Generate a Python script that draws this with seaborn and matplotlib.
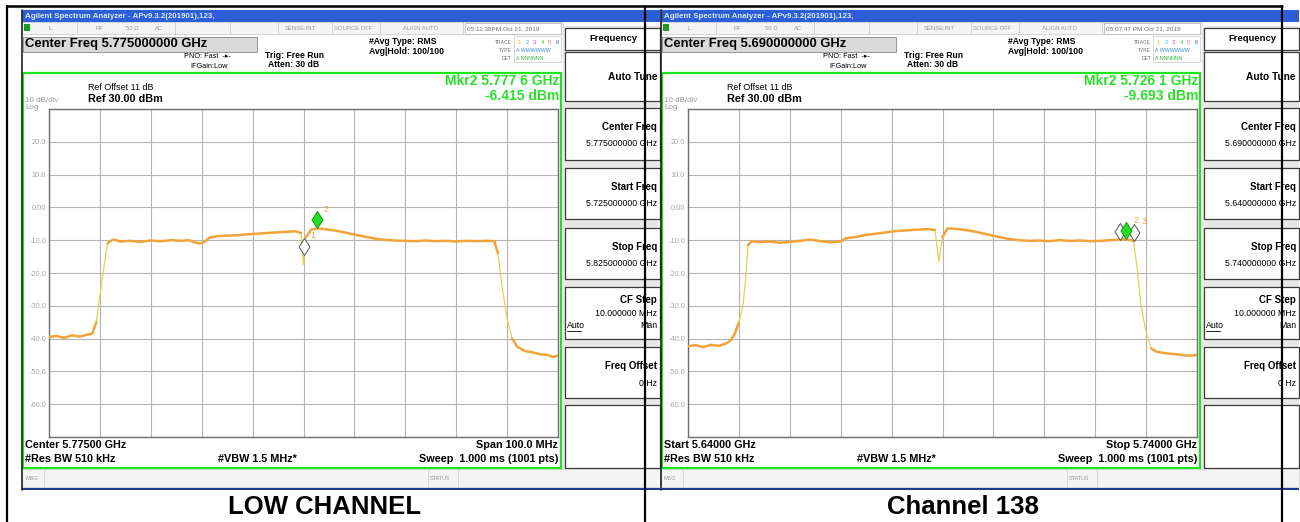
import numpy as np
import pandas as pd
import matplotlib
matplotlib.use("Agg")
import matplotlib.pyplot as plt
import seaborn as sns
from matplotlib.patches import Rectangle
from matplotlib.lines import Line2D
from matplotlib.path import Path

# ---------------- data ----------------
captions = ["LOW CHANNEL", "Channel 138"]
center_freq_text = ["Center Freq 5.775000000 GHz", "Center Freq 5.690000000 GHz"]
timestamps = ["05:11:38PM Oct 21, 2019", "05:07:47 PM Oct 21, 2019"]
marker_freq_text = ["Mkr2 5.777 6 GHz", "Mkr2 5.726 1 GHz"]
marker_level_text = ["-6.415 dBm", "-9.693 dBm"]
bottom_left_text = ["Center 5.77500 GHz", "Start 5.64000 GHz"]
bottom_right_text = ["Span 100.0 MHz", "Stop 5.74000 GHz"]
panel_center = ["5.775000000 GHz", "5.690000000 GHz"]
panel_start = ["5.725000000 GHz", "5.640000000 GHz"]
panel_stop = ["5.825000000 GHz", "5.740000000 GHz"]
span_start_ghz = [5.725, 5.640]
span_stop_ghz = [5.825, 5.740]

ref_level_dbm = 30
db_per_div = 10
y_tick_labels = ["", "20.0", "10.0", "0.00", "-10.0", "-20.0", "-30.0",
                 "-40.0", "-50.0", "-60.0", ""]

low_freq_ghz = [5.7250, 5.7265, 5.7280, 5.7295, 5.7310, 5.7325, 5.7335, 5.7343,
                5.7350, 5.7358, 5.7365, 5.7370, 5.7378, 5.7390, 5.7410, 5.7430,
                5.7450, 5.7470, 5.7490, 5.7510, 5.7525, 5.7535, 5.7545, 5.7555,
                5.7565, 5.7580, 5.7600, 5.7620, 5.7640, 5.7660, 5.7680, 5.7700,
                5.7720, 5.7735, 5.7745, 5.7750, 5.7755, 5.7765, 5.7776, 5.7790,
                5.7810, 5.7830, 5.7850, 5.7870, 5.7890, 5.7910, 5.7930, 5.7950,
                5.7970, 5.7990, 5.8010, 5.8030, 5.8050, 5.8070, 5.8090, 5.8110,
                5.8125, 5.8132, 5.8140, 5.8150, 5.8160, 5.8170, 5.8185, 5.8200,
                5.8215, 5.8230, 5.8240, 5.8250]
low_level_dbm = [-39.5, -39.2, -39.8, -39.0, -39.4, -38.8, -38.5, -35.0,
                 -27.0, -18.0, -11.0, -10.3, -9.8, -10.4, -10.2, -10.5,
                 -10.1, -10.3, -10.0, -10.2, -10.0, -10.6, -11.0, -10.6,
                 -9.2, -8.8, -8.6, -8.5, -8.2, -8.0, -7.8, -7.6,
                 -7.4, -7.3, -7.8, -17.5, -9.0, -6.8, -6.4, -6.6,
                 -7.0, -7.6, -8.3, -8.9, -9.5, -9.9, -10.1, -10.2,
                 -10.3, -10.1, -10.3, -10.2, -10.4, -10.2, -10.3, -10.2,
                 -10.3, -14.0, -24.0, -34.0, -40.0, -42.5, -43.8, -44.2,
                 -44.8, -45.0, -45.6, -45.2]

ch138_freq_ghz = [5.6400, 5.6415, 5.6430, 5.6445, 5.6460, 5.6475, 5.6484, 5.6492,
                  5.6500, 5.6508, 5.6513, 5.6518, 5.6525, 5.6540, 5.6560, 5.6580,
                  5.6600, 5.6620, 5.6640, 5.6660, 5.6680, 5.6700, 5.6710, 5.6730,
                  5.6750, 5.6770, 5.6790, 5.6810, 5.6830, 5.6850, 5.6870, 5.6885,
                  5.6893, 5.6900, 5.6910, 5.6930, 5.6950, 5.6970, 5.6990, 5.7010,
                  5.7030, 5.7050, 5.7070, 5.7090, 5.7110, 5.7130, 5.7150, 5.7170,
                  5.7190, 5.7210, 5.7230, 5.7250, 5.7261, 5.7275, 5.7282, 5.7290,
                  5.7300, 5.7310, 5.7320, 5.7340, 5.7360, 5.7380, 5.7400]
ch138_level_dbm = [-42.3, -42.0, -42.6, -41.9, -42.2, -41.5, -40.5, -38.5,
                   -35.0, -30.0, -22.0, -11.5, -10.3, -10.6, -10.4, -10.8,
                   -10.5, -10.2, -9.8, -10.3, -10.6, -10.4, -9.4, -9.0,
                   -8.4, -8.0, -7.6, -7.2, -7.0, -6.8, -6.6, -6.9,
                   -16.5, -9.0, -6.4, -6.6, -7.0, -7.6, -8.3, -9.0,
                   -9.6, -10.0, -10.2, -10.1, -10.3, -10.0, -10.2, -10.1,
                   -10.3, -10.2, -10.0, -9.8, -9.7, -10.2, -18.0, -30.0,
                   -38.0, -43.0, -44.0, -44.5, -44.8, -45.2, -45.0]

low_marker_freq_ghz = [5.7750, 5.7776]
low_marker_level_dbm = [-14.5, -6.4]
low_marker_id = ["1", "2"]
low_marker_active = [False, True]
ch138_marker_freq_ghz = [5.7249, 5.7261, 5.7277]
ch138_marker_level_dbm = [-9.9, -9.7, -10.2]
ch138_marker_id = ["", "2", "3"]
ch138_marker_active = [False, True, False]

# ---------------- figure ----------------
sns.set_theme(style="white")
plt.rcParams["font.family"] = ["Liberation Sans", "DejaVu Sans"]

W, H = 1300, 522
fig = plt.figure(figsize=(13, 5.22), dpi=100)
fig.patch.set_facecolor("white")


def fx(x):
    return x / W


def fy(y):
    return 1 - y / H


def text(x, y, s, size=6, weight="normal", color="black", ha="left", va="center", **kw):
    return fig.text(fx(x), fy(y), s, fontsize=size, fontweight=weight, color=color,
                    ha=ha, va=va, **kw)


def rect(x, y, w, h, fc="none", ec="none", lw=0.8, z=-2):
    fig.add_artist(Rectangle((fx(x), fy(y + h)), w / W, h / H, transform=fig.transFigure,
                             facecolor=fc, edgecolor=ec, linewidth=lw, zorder=z))


def line(x1, y1, x2, y2, color="black", lw=1.0, z=-1):
    fig.add_artist(Line2D([fx(x1), fx(x2)], [fy(y1), fy(y2)], transform=fig.transFigure,
                          color=color, linewidth=lw, zorder=z))


tip_diamond = Path([(0, 0), (0.32, 0.5), (0, 1), (-0.32, 0.5), (0, 0)],
                   [Path.MOVETO, Path.LINETO, Path.LINETO, Path.LINETO, Path.CLOSEPOLY])

ORANGE = "#f2a43a"
YELLOW = "#e4d24a"
GREEN = "#22dd22"


def draw_window(i, x0, freq, level, mk_f, mk_l, mk_id, mk_act):
    X = lambda r: x0 + r
    # title bar
    rect(X(0), 10, 638, 12, fc="#2c5fd6")
    text(X(3), 16.5, "Agilent Spectrum Analyzer - APv9.3.2(201901),123,", 5.7, "bold", "#dfe8ff")
    # status row
    rect(X(0), 22, 541, 12, fc="#f4f4f4", ec="#c8c8c8", lw=0.5)
    rect(X(2), 24, 6, 7, fc="#1f9a1f")
    for r in [55, 153, 208, 256, 310, 358, 441]:
        line(X(r), 22, X(r), 34, "#c4c4c4", 0.5)
    for r, s in [(26, "L"), (73, "RF"), (104, "50 Ω"), (133, "AC"), (263, "SENSE:INT"),
                 (312, "SOURCE OFF"), (381, "ALIGN AUTO")]:
        text(X(r), 28.5, s, 4.2, color="#9a9a9a")
    rect(X(443), 23.5, 96, 10, fc="white", ec="#b0b0b0", lw=0.5)
    text(X(445), 28.5, timestamps[i], 4.6, color="#707070")
    # header
    rect(X(1), 37, 234, 15, fc="#d9d9d9", ec="#8a8a8a", lw=0.6)
    text(X(3), 44.5, center_freq_text[i], 9.4, "bold")
    text(X(162), 57, "PNO: Fast  -▸-", 5.3)
    text(X(168), 66, "IFGain:Low", 5.3)
    text(X(243), 55, "Trig: Free Run", 6.2, "bold")
    text(X(246), 65, "Atten: 30 dB", 6.2, "bold")
    text(X(347), 42, "#Avg Type: RMS", 6.2, "bold")
    text(X(347), 51, "Avg|Hold: 100/100", 6.2, "bold")
    rect(X(492), 36, 47, 26, fc="white", ec="#c8c8c8", lw=0.5)
    text(X(490), 42, "TRACE", 3.6, color="#707070", ha="right")
    text(X(490), 50, "TYPE", 3.6, color="#707070", ha="right")
    text(X(490), 58, "DET", 3.6, color="#707070", ha="right")
    for k, c in enumerate(["#e0c020", "#30c0e0", "#e040d0", "#40c040", "#f06080", "#4060f0"]):
        text(X(496 + 7.5 * k), 42, str(k + 1), 4.2, color=c)
    text(X(494), 50, "A WWWWWW", 3.8, color="#3a8ad0")
    text(X(494), 58, "A NNNNNN", 3.8, color="#40b040")
    # soft-key panel
    rect(X(541), 26, 97, 444, fc="#e8e8e8")
    boxes = [(28, 50), (52, 101), (108, 160), (168, 219), (228, 279), (287, 339),
             (347, 398), (405, 468)]
    for (t, b) in boxes:
        rect(X(543), t, 95, b - t, fc="white", ec="#3a3a3a", lw=0.9)
    text(X(591), 38.5, "Frequency", 6.8, "bold", ha="center")
    R = X(635)
    text(R, 77, "Auto Tune", 7.3, "bold", ha="right")
    text(R, 127, "Center Freq", 7.0, "bold", ha="right")
    text(R, 144, panel_center[i], 6.3, ha="right")
    text(R, 187, "Start Freq", 7.0, "bold", ha="right")
    text(R, 203, panel_start[i], 6.3, ha="right")
    text(R, 247, "Stop Freq", 7.0, "bold", ha="right")
    text(R, 263, panel_stop[i], 6.3, ha="right")
    text(R, 300, "CF Step", 7.0, "bold", ha="right")
    text(R, 313, "10.000000 MHz", 6.3, ha="right")
    text(X(545), 326, "Auto", 6.3)
    line(X(545), 331, X(559), 331, "black", 0.6, z=3)
    text(R, 326, "Man", 6.3, ha="right")
    text(R, 366, "Freq Offset", 7.0, "bold", ha="right")
    text(R, 383, "0 Hz", 6.3, ha="right")
    # green display frame
    rect(X(1), 73, 538, 395, fc="white", ec="#1fe51f", lw=1.6, z=-1.5)
    text(X(537), 81, marker_freq_text[i], 10.0, "bold", color="#2ae02a", ha="right")
    text(X(537), 96, marker_level_text[i], 10.0, "bold", color="#2ae02a", ha="right")
    text(X(66), 87, "Ref Offset 11 dB", 6.4)
    text(X(66), 99.5, "Ref 30.00 dBm", 7.8, "bold")
    text(X(3), 100.5, "10 dB/div", 5.8, color="#9a9a9a")
    text(X(3), 107.5, "Log", 5.8, color="#9a9a9a")
    text(X(3), 445, bottom_left_text[i], 7.8, "bold")
    text(X(3), 459, "#Res BW 510 kHz", 7.8, "bold")
    text(X(196), 459, "#VBW 1.5 MHz*", 7.8, "bold")
    text(X(536), 445, bottom_right_text[i], 7.8, "bold", ha="right")
    text(X(536), 459, "Sweep  1.000 ms (1001 pts)", 7.8, "bold", ha="right")
    # message row and window bottom
    rect(X(0), 469, 638, 18, fc="#f4f4f4", ec="#cccccc", lw=0.5)
    for r in [22, 406, 436]:
        line(X(r), 469, X(r), 487, "#c8c8c8", 0.5)
    text(X(3), 478, "MSG", 4.0, color="#9a9a9a")
    text(X(408), 478, "STATUS", 4.0, color="#9a9a9a")
    rect(X(0), 487.5, 638, 2.5, fc="#1b3c8c")
    line(X(0), 10, X(0), 490, "#202020", 1.2)

    # graticule + trace
    ax = fig.add_axes([fx(X(27)), fy(437), 509 / W, 328 / H])
    ax.set_facecolor("white")
    df = pd.DataFrame({"freq": freq, "level": level})
    steep = np.abs(np.diff(df["level"].to_numpy())) > 4
    df["run"] = np.concatenate([[0], np.cumsum(steep)])
    sns.lineplot(data=df, x="freq", y="level", ax=ax, color=YELLOW, lw=0.9,
                 estimator=None, sort=False, zorder=3)
    sns.lineplot(data=df, x="freq", y="level", units="run", ax=ax, color=ORANGE, lw=1.8,
                 estimator=None, sort=False, zorder=4)
    mk = pd.DataFrame({"freq": mk_f, "level": mk_l, "id": mk_id, "act": mk_act})
    sns.scatterplot(data=mk[~mk["act"]], x="freq", y="level", ax=ax, marker=tip_diamond,
                    s=600, color="white", edgecolor="#555555", linewidth=0.7, zorder=5)
    sns.scatterplot(data=mk[mk["act"]], x="freq", y="level", ax=ax, marker=tip_diamond,
                    s=600, color=GREEN, edgecolor="#129a12", linewidth=0.7, zorder=6)
    for _, r in mk.iterrows():
        ax.annotate(r["id"], (r["freq"], r["level"]), xytext=(5, 12),
                    textcoords="offset points", color=ORANGE, fontsize=6.5, zorder=7)
    ax.set_xlim(span_start_ghz[i], span_stop_ghz[i])
    bottom = ref_level_dbm - 10 * db_per_div
    ax.set_ylim(bottom, ref_level_dbm)
    ax.set_xticks(np.linspace(span_start_ghz[i], span_stop_ghz[i], 11))
    ax.set_xticklabels([])
    ax.set_yticks(np.arange(ref_level_dbm, bottom - 1, -db_per_div))
    ax.set_yticklabels(y_tick_labels, fontsize=5.3, color="#a8a8a8")
    ax.tick_params(length=0, pad=2)
    ax.grid(True, color="#b4b4b4", lw=0.8)
    ax.set_axisbelow(True)
    for sp in ax.spines.values():
        sp.set_color("#6e6e6e")
        sp.set_linewidth(1.0)
    ax.set_xlabel("")
    ax.set_ylabel("")
    leg = ax.get_legend()
    if leg is not None:
        leg.remove()


draw_window(0, 22, low_freq_ghz, low_level_dbm, low_marker_freq_ghz,
            low_marker_level_dbm, low_marker_id, low_marker_active)
draw_window(1, 661, ch138_freq_ghz, ch138_level_dbm, ch138_marker_freq_ghz,
            ch138_marker_level_dbm, ch138_marker_id, ch138_marker_active)

# captions
text(325, 507, captions[0], 18.5, "bold", ha="center")
text(963, 507, captions[1], 18.5, "bold", ha="center")

# table rules on top
for x in [7, 645, 1282]:
    line(x, 6, x, 522, "black", 1.6, z=10)
line(7, 6, 1282, 6, "black", 1.8, z=10)

fig.savefig("out.png", dpi=100, facecolor="white")
